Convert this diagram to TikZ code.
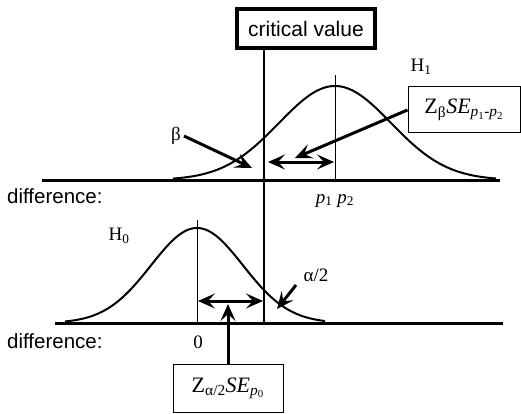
\documentclass[tikz,border=0pt]{standalone}
\usepackage{fontspec}
\setmainfont{Liberation Serif}
\setsansfont{Liberation Sans}
\usetikzlibrary{arrows.meta}
\begin{document}
\begin{tikzpicture}[x=1pt,y=-1pt,
  sanslab/.style={font=\sffamily\fontsize{20.5}{22}\selectfont, inner sep=0pt},
  serlab/.style={font=\fontsize{19}{21}\selectfont, inner sep=0pt},
  boxlab/.style={draw, line width=1pt, font=\fontsize{22}{24}\selectfont, inner sep=0pt},
  axisline/.style={line width=3pt},
  curveline/.style={line width=2pt},
  thinv/.style={line width=1pt},
  tip/.tip={Stealth[length=17pt,width=15pt,inset=7pt]},
  bigarrow/.style={line width=3pt, -tip},
  dblarrow/.style={line width=3pt, tip-tip}]
\useasboundingbox (0,0) rectangle (521,414);

% critical value box and line
\node[draw, line width=3.5pt, minimum width=138pt, minimum height=39pt, font=\sffamily\fontsize{21}{23}\selectfont, inner sep=0pt] (cv) at (306,28.5) {critical value};
\coordinate (cvtop) at (264,48);
\coordinate (cvbot) at (264,323);
\draw[line width=2pt] (cvtop) -- (cvbot);

% axes
\coordinate (a1l) at (42,180);
\coordinate (a1r) at (500,180);
\coordinate (a0l) at (55,323);
\coordinate (a0r) at (503,323);
\draw[axisline] (a1l) -- (a1r);
\draw[axisline] (a0l) -- (a0r);

% curves
\draw[curveline] plot[domain=173:496, samples=120] (\x, {180 - 94*exp(-((\x-335)/56)^2/2)});
\draw[curveline] plot[domain=65:325, samples=120] (\x, {323 - 95*exp(-((\x-197)/46)^2/2)});

% center lines
\coordinate (c1top) at (335,75);
\coordinate (c1bot) at (335,180);
\coordinate (c0top) at (197,220);
\coordinate (c0bot) at (197,323);
\draw[thinv] (c1top) -- (c1bot);
\draw[thinv] (c0top) -- (c0bot);

% text labels
\node[sanslab, anchor=base west] (d1) at (7,203) {difference:};
\node[sanslab, anchor=base west] (d0) at (7,348) {difference:};
\node[serlab, anchor=base] (pp) at (335,203) {\textit{p}\textsubscript{1} \textit{p}\textsubscript{2}};
\node[serlab] (h1) at (421,67) {H\textsubscript{1}};
\node[serlab] (h0) at (119,236) {H\textsubscript{0}};
\node[serlab, anchor=base] (zero) at (198,348) {0};
\node[serlab] (beta) at (176,136) {β};
\node[serlab] (alpha) at (316,275) {α/2};

% boxes
\node[boxlab, minimum width=112pt, minimum height=46pt] (zb) at (464,110)
  {Z\textsubscript{β}\textit{SE}\textsubscript{\textit{p}\textsubscript{1}-\textit{p}\textsubscript{2}}};
\node[boxlab, minimum width=110pt, minimum height=48pt] (za) at (228,388)
  {Z\textsubscript{α/2}\textit{SE}\textsubscript{\textit{p}\textsubscript{0}}};

% arrows
\coordinate (u1l) at (268,162);
\coordinate (u1r) at (334,162);
\draw[dblarrow] (u1l) -- (u1r);
\coordinate (l0l) at (198,301);
\coordinate (l0r) at (263,301);
\draw[dblarrow] (l0l) -- (l0r);

\coordinate (betatip) at (252,168);
\draw[bigarrow] (beta.east) ++(3,0) -- (betatip);
\coordinate (zbtip) at (295,158);
\draw[bigarrow] (zb.west) -- (zbtip);
\coordinate (zatip) at (228,304);
\draw[bigarrow] (za.north) -- (zatip);
\coordinate (alphastart) at (296,285);
\coordinate (alphatip) at (277,309);
\draw[bigarrow] (alphastart) -- (alphatip);
\end{tikzpicture}
\end{document}
